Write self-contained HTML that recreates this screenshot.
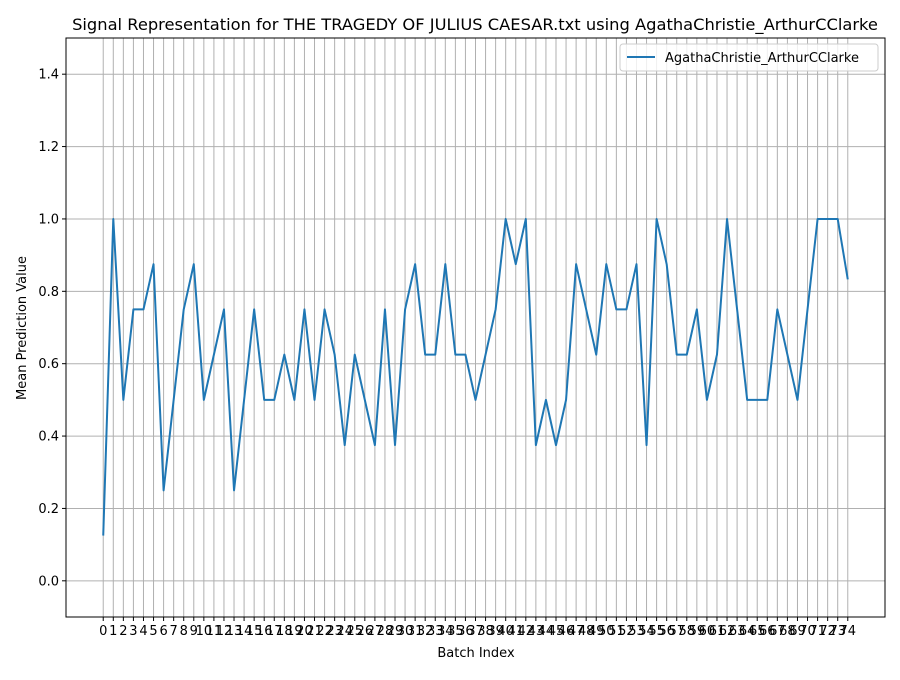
<!DOCTYPE html>
<html><head><meta charset="utf-8"><style>
body{margin:0;background:#fff;}
svg text{font-family:"DejaVu Sans","Liberation Sans",sans-serif;fill:#000;}
</style></head><body>
<svg id="chart" width="900" height="675" xmlns="http://www.w3.org/2000/svg">
<rect width="900" height="675" fill="#fff"/>
<text x="475" y="30" font-size="16.3" text-anchor="middle">Signal Representation for THE TRAGEDY OF JULIUS CAESAR.txt using AgathaChristie_ArthurCClarke</text>
<g id="grid"></g>
<g id="ticks"></g>
<path id="line" fill="none" stroke="#1f77b4" stroke-width="2" stroke-linejoin="round"/>
<rect x="66" y="38" width="819" height="579" fill="none" stroke="#000" stroke-width="1"/>
<text x="476" y="657" font-size="13" text-anchor="middle">Batch Index</text>
<text transform="translate(26,328) rotate(-90)" font-size="13" text-anchor="middle">Mean Prediction Value</text>
<g>
<rect x="620" y="44" width="258" height="27" rx="3" fill="#fff" fill-opacity="0.8" stroke="#ccc"/>
<line x1="627" y1="57" x2="655" y2="57" stroke="#1f77b4" stroke-width="2"/>
<text x="665" y="62" font-size="13">AgathaChristie_ArthurCClarke</text>
</g>
</svg>
<script>
const values=[0.125,1.0,0.5,0.75,0.75,0.875,0.25,0.5,0.75,0.875,0.5,0.625,0.75,0.25,0.5,0.75,0.5,0.5,0.625,0.5,0.75,0.5,0.75,0.625,0.375,0.625,0.5,0.375,0.75,0.375,0.75,0.875,0.625,0.625,0.875,0.625,0.625,0.5,0.625,0.75,1.0,0.875,1.0,0.375,0.5,0.375,0.5,0.875,0.75,0.625,0.875,0.75,0.75,0.875,0.375,1.0,0.875,0.625,0.625,0.75,0.5,0.625,1.0,0.75,0.5,0.5,0.5,0.75,0.625,0.5,0.75,1.0,1.0,1.0,0.833];
const yTicks=[0.0,0.2,0.4,0.6,0.8,1.0,1.2,1.4];
const yTickLabels=["0.0","0.2","0.4","0.6","0.8","1.0","1.2","1.4"];
const NS="http://www.w3.org/2000/svg";
const x0=66,x1=885,y0=38,y1=617;
const n=values.length;
const xmin=-0.05*(n-1),xmax=(n-1)*1.05;
const ymin=-0.1,ymax=1.5;
function sx(i){return x0+(i-xmin)/(xmax-xmin)*(x1-x0);}
function sy(v){return y1-(v-ymin)/(ymax-ymin)*(y1-y0);}
const grid=document.getElementById('grid'),ticks=document.getElementById('ticks');
function mk(tag,attrs,parent){const e=document.createElementNS(NS,tag);for(const k in attrs)e.setAttribute(k,attrs[k]);parent.appendChild(e);return e;}
for(let i=0;i<n;i++){
  const x=sx(i);
  const g=mk('line',{x1:x,x2:x,y1:y0,y2:y1,stroke:'#b0b0b0','stroke-width':1},grid);
  
  
  mk('line',{x1:x,x2:x,y1:y1,y2:y1+4,stroke:'#000'},ticks);
  const t=mk('text',{x:x,y:y1+18,'font-size':13,'text-anchor':'middle'},ticks);
  t.textContent=String(i);
  
  
}
yTicks.forEach((v,k)=>{
  const y=sy(v);
  const g=mk('line',{x1:x0,x2:x1,y1:y,y2:y,stroke:'#b0b0b0','stroke-width':1},grid);
  
  
  mk('line',{x1:x0-4,x2:x0,y1:y,y2:y,stroke:'#000'},ticks);
  const t=mk('text',{x:x0-7,y:y+4.5,'font-size':13,'text-anchor':'end'},ticks);
  t.textContent=yTickLabels[k];
  
  
});
document.getElementById('line').setAttribute('d',values.map((v,i)=>(i?'L':'M')+sx(i).toFixed(2)+' '+sy(v).toFixed(2)).join(' '));
</script>
</body></html>
